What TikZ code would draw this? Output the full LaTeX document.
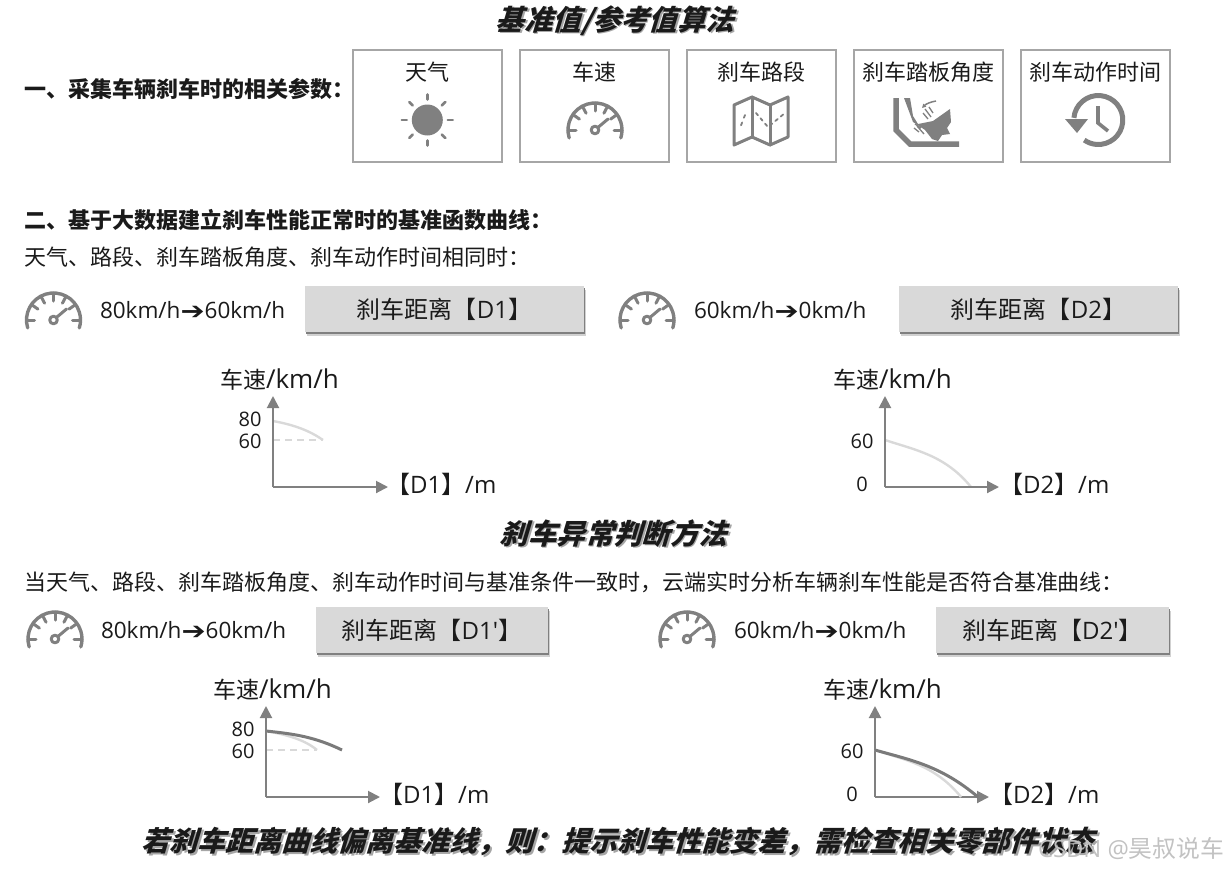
\documentclass[tikz,border=0pt]{standalone}
\usepackage{fontspec}
\usepackage{graphicx}
\setmainfont{Noto Sans CJK SC}
\newfontfamily\titlef[FakeSlant=0.3]{Noto Sans CJK SC}
\newfontfamily\arrowf{DejaVu Sans}
\newfontfamily\latf{Open Sans}
\usetikzlibrary{arrows.meta}
\definecolor{ink}{HTML}{1A1A1A}
\definecolor{iconc}{HTML}{808080}
\definecolor{framec}{HTML}{A6A6A6}
\definecolor{boxc}{HTML}{D9D9D9}
\newcommand\fs[1]{\fontsize{#1}{#1}\selectfont}
\newcommand\lt[1]{{\latf #1}}
\newcommand\unitlt[1]{{\latf\fs{26}#1}}
\newcommand\barrow{\raisebox{-1pt}{\scalebox{1.2}[1]{\arrowf\bfseries\fontsize{24}{24}\selectfont ➔}}}
\tikzset{
 x=1pt,y=-1pt,
 every node/.style={inner sep=0pt,outer sep=0pt,text=ink},
 lab/.style={anchor=west,font=\fs{22}},
 headlab/.style={anchor=west,font=\fs{22}\bfseries},
 speedlab/.style={anchor=west,font=\fs{22.5}\latf},
 ttl/.style={font=\titlef\fs{28.4}\bfseries},
 ttlshadow/.style={font=\titlef\fs{28.4}\bfseries,text=black!35},
 parbox/.style={draw=framec,line width=1.6pt,fill=white,minimum width=149pt,minimum height=112pt,anchor=north west},
 boxlabel/.style={font=\fs{22}},
 distbox/.style={fill=boxc,minimum height=46pt,font=\fs{24},anchor=north west},
 distshadow/.style={fill=black!50,minimum height=46pt,anchor=north west},
 distsoft/.style={fill=black!18,minimum height=46pt,anchor=north west},
 axis/.style={draw=iconc,line width=2pt,-{Triangle[length=12pt,width=12pt,fill=iconc]}},
 axlab/.style={font=\fs{23},anchor=west},
 tick/.style={font=\fs{20}\latf},
 xlab/.style={font=\fs{24},anchor=west},
 basecurve/.style={draw=black!15,line width=2.4pt},
 basedash/.style={draw=black!15,line width=1.6pt,dash pattern=on 7pt off 5pt},
 realcurve/.style={draw=black!52,line width=3pt},
 icon/.style={draw=iconc,line width=2.6pt,line cap=round,line join=round},
 gauge/.pic={
  \draw[icon,line width=3.4pt] (197:27pt) arc[start angle=197,end angle=-17,radius=27pt];
  \foreach \a in {180,145,118,90,62,35,0}{\draw[icon,line width=3pt] (\a:19pt) -- (\a:27pt);}
  \draw[icon,line width=3pt] (0,0) circle[radius=3.8pt];
  \draw[icon,line width=3pt] (3,-2.6) -- (13,-11);
 }
}
\begin{document}
\begin{tikzpicture}
\useasboundingbox (0,0) rectangle (1226,868);
% titles
\node[ttlshadow] (t1s) at (616.5,22) {基准值/参考值算法};
\node[ttl] (t1) at (615,20.5) {基准值/参考值算法};
\node[ttlshadow] (t2s) at (615,535) {刹车异常判断方法};
\node[ttl] (t2) at (613.5,533.5) {刹车异常判断方法};
\node[ttlshadow,font=\titlef\fs{28}\bfseries] (t3s) at (619,843) {若刹车距离曲线偏离基准线，则：提示刹车性能变差，需检查相关零部件状态};
\node[ttl,font=\titlef\fs{28}\bfseries] (t3) at (617.5,841.5) {若刹车距离曲线偏离基准线，则：提示刹车性能变差，需检查相关零部件状态};
% section text
\node[headlab] (h1) at (24,89) {一、采集车辆刹车时的相关参数：};
\node[headlab] (h2) at (24,220) {二、基于大数据建立刹车性能正常时的基准函数曲线：};
\node[lab] (h3) at (24,257) {天气、路段、刹车踏板角度、刹车动作时间相同时：};
\node[lab] (h4) at (24,582) {当天气、路段、刹车踏板角度、刹车动作时间与基准条件一致时，云端实时分析车辆刹车性能是否符合基准曲线：};
% parameter boxes
\node[parbox] (b1) at (353,50) {};
\node[parbox] (b2) at (520,50) {};
\node[parbox] (b3) at (687,50) {};
\node[parbox] (b4) at (854,50) {};
\node[parbox] (b5) at (1021,50) {};
\node[boxlabel] (l1) at (427,72) {天气};
\node[boxlabel] (l2) at (594.5,72) {车速};
\node[boxlabel] (l3) at (761,72) {刹车路段};
\node[boxlabel] (l4) at (928.5,72) {刹车踏板角度};
\node[boxlabel] (l5) at (1095,72) {刹车动作时间};
% sun
\fill[iconc] (427.3,120) circle[radius=15.5pt];
\foreach \a in {0,45,...,315}{\draw[icon,shift={(427.3,120)}] (\a:20.5pt) -- (\a:25.5pt);}
% gauge icons
\pic at (595,130) {gauge};
\pic at (53.5,320) {gauge};
\pic at (647,320) {gauge};
\pic at (55,639) {gauge};
\pic at (687,639) {gauge};
% map
\draw[icon,line width=3pt] (734,105) -- (752,97) -- (770,105) -- (788,97) -- (788,137) -- (770,145) -- (752,137) -- (734,145) -- cycle;
\draw[icon,line width=3pt] (752,97) -- (752,137) (770,105) -- (770,145);
\draw[icon,line width=1.8pt,dash pattern=on 3pt off 5pt] (745,115) -- (740,128);
\draw[icon,line width=1.8pt,dash pattern=on 3pt off 4pt] (756,113) -- (768,127) -- (785,113);
% pedal
\draw[draw=iconc,line width=5.5pt,line join=miter] (896,98) -- (896,130) -- (910,144) -- (959,144);
\fill[iconc] (904,98) -- (910,98) -- (913,116) -- (918,124) -- (933,121) -- (950,109) -- (951,122) -- (947,128) -- (950,134) -- (942,135) -- (938,141) -- (932,139) -- (925,130) -- (913,122) -- cycle;
\draw[draw=iconc,line width=1.3pt] (915,124) -- (921,128) (917,126) -- (924,134) (914,128) -- (919,132);
\draw[draw=iconc,line width=1.5pt,-{Triangle[length=4pt,width=4pt]}] (936,101) .. controls (930,102) and (926,104) .. (922,108);
\draw[draw=iconc,line width=1.3pt] (929,107) -- (933,113) (925,109) -- (931,117) (923,113) -- (928,119);
% clock
\draw[draw=iconc,line width=5pt] (1098.3,120) ++(175:24.5pt) arc[start angle=175,end angle=-125,radius=24.5pt];
\fill[iconc] (1065,119) -- (1088,119) -- (1077,133) -- cycle;
\draw[draw=iconc,line width=3.6pt] (1098,106) -- (1098,123) -- (1108,131);
% speed rows
\node[speedlab] (s1) at (100,310) {80km/h\barrow 60km/h};
\node[speedlab] (s2) at (694,310) {60km/h\barrow 0km/h};
\node[speedlab] (s3) at (101,630) {80km/h\barrow 60km/h};
\node[speedlab] (s4) at (734,630) {60km/h\barrow 0km/h};
\node[distsoft,minimum width=279pt] (d1o) at (307,289.5) {};
\node[distshadow,minimum width=279pt] (d1s) at (306,288) {};
\node[distbox,minimum width=279pt] (d1) at (305,286) {刹车距离【\lt{D1}】};
\node[distsoft,minimum width=279pt] (d2o) at (901,289.5) {};
\node[distshadow,minimum width=279pt] (d2s) at (900,288) {};
\node[distbox,minimum width=279pt] (d2) at (899,286) {刹车距离【\lt{D2}】};
\node[distsoft,minimum width=232pt] (d3o) at (318,610.5) {};
\node[distshadow,minimum width=232pt] (d3s) at (317,609) {};
\node[distbox,minimum width=232pt] (d3) at (316,607) {刹车距离【\lt{D1′}】};
\node[distsoft,minimum width=233pt] (d4o) at (938,610.5) {};
\node[distshadow,minimum width=233pt] (d4s) at (937,609) {};
\node[distbox,minimum width=233pt] (d4) at (936,607) {刹车距离【\lt{D2′}】};
% chart 1
\coordinate (o1) at (273,487);
\coordinate (y1) at (273,396);
\coordinate (x1) at (388,487);
\coordinate (a1) at (273,421);
\coordinate (b1c) at (323,440);
\coordinate (c1) at (273,440);
\draw[basedash] (c1) -- (b1c);
\draw[basecurve] (a1) .. controls (295,425) and (310,431) .. (b1c);
\draw[axis] (o1) -- (y1);
\draw[axis] (o1) -- (x1);
\node[axlab] (cy1) at (220,380) {车速\unitlt{/km/h}};
\node[tick] (t80a) at (250,419) {80};
\node[tick] (t60a) at (250,441) {60};
\node[xlab] (cx1) at (386,484) {【\lt{D1}】\lt{/m}};
% chart 2
\coordinate (o2) at (885,487);
\coordinate (y2) at (885,396);
\coordinate (x2) at (999,487);
\coordinate (a2) at (885,440);
\coordinate (b2c) at (971,487);
\draw[basecurve] (a2) .. controls (915,450) and (945,455) .. (b2c);
\draw[axis] (o2) -- (y2);
\draw[axis] (o2) -- (x2);
\node[axlab] (cy2) at (833,380) {车速\unitlt{/km/h}};
\node[tick] (t60b) at (862,441) {60};
\node[tick] (t0b) at (862,484) {0};
\node[xlab] (cx2) at (999,484) {【\lt{D2}】\lt{/m}};
% chart 3
\coordinate (o3) at (266,797);
\coordinate (y3) at (266,706);
\coordinate (x3) at (380,797);
\coordinate (a3) at (266,731);
\coordinate (b3c) at (317,750);
\coordinate (c3) at (266,750);
\coordinate (e3) at (342,750);
\draw[basedash] (c3) -- (b3c);
\draw[basecurve] (a3) .. controls (288,735) and (305,740) .. (b3c);
\draw[realcurve] (a3) .. controls (295,734) and (315,737) .. (e3);
\draw[axis] (o3) -- (y3);
\draw[axis] (o3) -- (x3);
\node[axlab] (cy3) at (213,690) {车速\unitlt{/km/h}};
\node[tick] (t80c) at (243,729) {80};
\node[tick] (t60c) at (243,751) {60};
\node[xlab] (cx3) at (379,794) {【\lt{D1}】\lt{/m}};
% chart 4
\coordinate (o4) at (875,797);
\coordinate (y4) at (875,706);
\coordinate (x4) at (989,797);
\coordinate (a4) at (875,750);
\coordinate (b4c) at (961,797);
\coordinate (e4) at (978,797);
\draw[axis] (o4) -- (y4);
\draw[axis] (o4) -- (x4);
\draw[basecurve] (a4) .. controls (905,760) and (935,765) .. (b4c);
\draw[realcurve] (a4) .. controls (910,760) and (940,765) .. (e4);
\node[axlab] (cy4) at (823,690) {车速\unitlt{/km/h}};
\node[tick] (t60d) at (852,751) {60};
\node[tick] (t0d) at (852,794) {0};
\node[xlab] (cx4) at (989,794) {【\lt{D2}】\lt{/m}};
% watermark
\node[anchor=west,font=\fs{23.8},text=black!24] (wm) at (1038,849) {\lt{CSDN @}昊叔说车};
\end{tikzpicture}
\end{document}
